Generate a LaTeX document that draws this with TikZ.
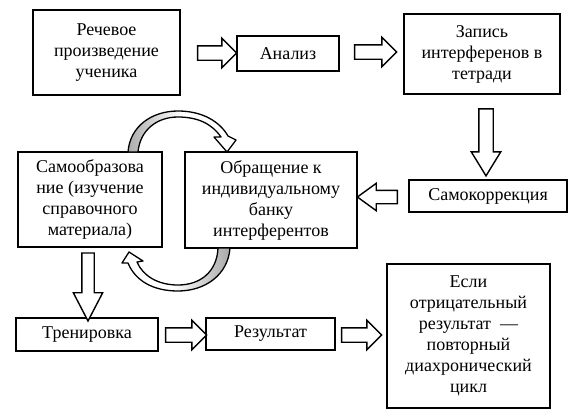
\documentclass[tikz,border=0pt]{standalone}
\usepackage{fontspec}
\setmainfont{Liberation Serif}
\usetikzlibrary{shapes.arrows}
\begin{document}
\begin{tikzpicture}[x=1pt,y=-1pt,
  box/.style={draw, line width=1.8pt, align=center, inner sep=2pt, font=\fontsize{18}{21}\selectfont},
  barrow/.style={single arrow, draw, line width=1.4pt, fill=white, inner xsep=0pt, inner ysep=6.5pt,
    single arrow head extend=7.5pt, minimum width=0pt, outer sep=0pt},
  curved/.style={draw, line width=1.3pt, line join=round},
]
\useasboundingbox (0,0) rectangle (572,415);

% boxes
\node[box, minimum width=147pt, minimum height=85pt] (rech) at (106.5,52.5) {Речевое\\произведение\\ученика};
\node[box, minimum width=102pt, minimum height=35pt] (analiz) at (288,53.5) {Анализ};
\node[box, minimum width=156pt, minimum height=80pt] (zapis) at (482,54) {Запись\\интерференов в\\тетради};
\node[box, minimum width=158pt, minimum height=32pt] (samokor) at (488,196) {Самокоррекция};
\node[box, minimum width=172pt, minimum height=96pt] (obr) at (271,200) {Обращение к\\индивидуальному\\банку\\интерферентов};
\node[box, minimum width=144pt, minimum height=95pt] (samoobr) at (90,199.5) {Самообразова\\ние (изучение\\справочного\\материала)};
\node[box, minimum width=142pt, minimum height=33pt] (tren) at (87,334.5) {Тренировка};
\node[box, minimum width=129pt, minimum height=32pt] (rez) at (270.5,334) {Результат};
\node[box, minimum width=163pt, minimum height=144pt] (esli) at (468.5,336) {Если\\отрицательный\\результат\ \ —\\повторный\\диахронический\\цикл};

% block arrows
\node[barrow, minimum height=39pt] (a1) at (213.5,53) {};
\node[barrow, minimum height=42pt] (a2) at (372,52) {};
\node[barrow, minimum height=67pt, rotate=-90, single arrow tip angle=63] (a3) at (486,136.5) {};
\node[barrow, minimum height=40pt, rotate=180, inner ysep=6pt, single arrow head extend=7pt, single arrow tip angle=72] (a4) at (382,197) {};
\node[barrow, minimum height=68pt, rotate=-90, inner ysep=5.5pt, single arrow head extend=8.5pt, single arrow tip angle=55] (a5) at (88,281) {};
\node[barrow, minimum height=41pt] (a6) at (182.5,335) {};
\node[barrow, minimum height=40pt] (a7) at (358,335) {};

% curved arrow top (from samoobr to obr)
\newcommand\toppath{(128,152) .. controls (130,126) and (152,111) .. (178,111)
  .. controls (203,111) and (220,122) .. (228,136)
  -- (236,140) -- (227,152) -- (214,137) -- (221,137)
  .. controls (212,124) and (198,117) .. (178,117)
  .. controls (157,117) and (140,130) .. (138,152) -- cycle}
\fill[white] \toppath;
\begin{scope}
  \clip \toppath;
  \shade[left color=gray!70, right color=white] (124,100) rectangle (182,155);
\end{scope}
\path[curved] \toppath;

% curved arrow bottom (from obr to samoobr)
\newcommand\botpath{(230,248) .. controls (228,275) and (205,291) .. (178,291)
  .. controls (152,291) and (135,280) .. (128,263)
  -- (122,263) -- (129,252) -- (143,261) -- (137,262)
  .. controls (143,276) and (158,285) .. (178,285)
  .. controls (200,285) and (217,272) .. (218,248) -- cycle}
\fill[white] \botpath;
\begin{scope}
  \clip \botpath;
  \shade[left color=white, right color=gray!70] (172,245) rectangle (232,295);
\end{scope}
\path[curved] \botpath;
\end{tikzpicture}
\end{document}
